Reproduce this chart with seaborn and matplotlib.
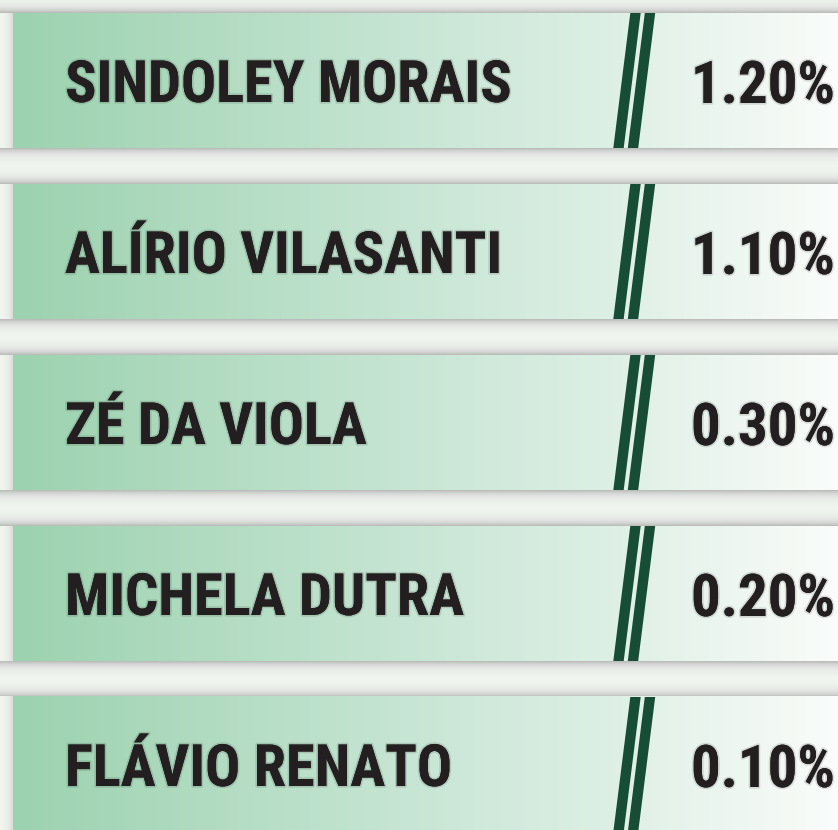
import numpy as np
import pandas as pd
import matplotlib
matplotlib.use('Agg')
import matplotlib.pyplot as plt
import matplotlib.patheffects as pe
from matplotlib import font_manager
from matplotlib.patches import Polygon
from matplotlib.colors import LinearSegmentedColormap, to_rgb
import seaborn as sns

# data
names = ['SINDOLEY MORAIS', 'ALÍRIO VILASANTI', 'ZÉ DA VIOLA', 'MICHELA DUTRA', 'FLÁVIO RENATO']
shares = [1.20, 1.10, 0.30, 0.20, 0.10]
panel = [1.0, 1.0, 1.0, 1.0, 1.0]   # every row is a full-width panel

df = pd.DataFrame({'name': names, 'share': shares, 'panel': panel})
df['label'] = df['share'].map(lambda v: f'{v:.2f}%')

sns.set_theme(style='white')
available = {f.name for f in font_manager.fontManager.ttflist}
font = next((f for f in ['Liberation Sans Narrow', 'Roboto Condensed', 'DejaVu Sans']
             if f in available), 'DejaVu Sans')
plt.rcParams['font.family'] = [font, 'DejaVu Sans']

W, H = 838, 830
bg = '#f3f7f2'
fig = plt.figure(figsize=(W / 100, H / 100), dpi=100, facecolor=bg)
ax = fig.add_axes([0, 0, 1, 1])
ax.set_facecolor(bg)

px_x = 1 / 825   # data units per pixel
px_y = 1 / 171
bar_h = 135 / 171
x_left = -13 * px_x
y_top = -80.5 / 171
y_bot = (H - 80.5) / 171

sns.barplot(data=df, x='panel', y='name', orient='h', width=bar_h,
            color='#9cd2af', saturation=1, linewidth=0, ax=ax, zorder=3)
bars = list(ax.patches)

cmap = LinearSegmentedColormap.from_list(
    'panel', [(0.0, '#9cd2af'), (0.47, '#c6e5d3'), (0.71, '#dcefe4'), (1.0, '#fbfcfb')])
grad_rgb = cmap(np.linspace(0, 1, 1024))[np.newaxis, :, :3]

light = np.array(to_rgb(bg))
shade = np.array(to_rgb('#b5b7b4'))


def shadow_profile(n, top_edge, bottom_edge, s=5.0):
    d = np.arange(n) + 0.5
    w = np.zeros(n)
    if top_edge:
        w = np.maximum(w, np.exp(-d / s))
    if bottom_edge:
        w = np.maximum(w, np.exp(-(n - d) / s))
    return light[None, :] * (1 - w[:, None]) + shade[None, :] * w[:, None]


for i, p in enumerate(bars):
    x0, y0 = p.get_x(), p.get_y()
    w, h = p.get_width(), p.get_height()
    # shaded gap above each bar
    prev_bottom = bars[i - 1].get_y() + bars[i - 1].get_height() if i else y_top
    n = max(int(round((y0 - prev_bottom) / px_y)), 2)
    ax.imshow(shadow_profile(n, i > 0, True)[:, None, :],
              extent=(x_left, 1.0, y0, prev_bottom), aspect='auto',
              zorder=1, interpolation='bilinear')
    # shadow on the left margin beside the bar
    m = 0.6 * np.exp(-(13 - np.arange(13) - 0.5) / 4.0)
    side = light[None, :] * (1 - m[:, None]) + shade[None, :] * m[:, None]
    ax.imshow(side[None, :, :], extent=(x_left, x0, y0 + h, y0), aspect='auto',
              zorder=2, interpolation='bilinear')
    # panel gradient
    ax.imshow(grad_rgb, extent=(x0, x0 + w, y0 + h, y0),
              aspect='auto', zorder=4, interpolation='nearest')
    # double slash divider
    for off in (0, 14.5):
        top_c, bot_c = (635.5 + off - 13) * px_x, (618.5 + off - 13) * px_x
        hw = 5.2 * px_x
        ax.add_patch(Polygon([(top_c - hw, y0), (top_c + hw, y0),
                              (bot_c + hw, y0 + h), (bot_c - hw, y0 + h)],
                             closed=True, facecolor='#174d35', lw=0, zorder=5))

# gap after the last bar (if any room is left)
last = bars[-1]
lb = last.get_y() + last.get_height()
if lb < y_bot:
    n = max(int(round((y_bot - lb) / px_y)), 2)
    ax.imshow(shadow_profile(n, True, False)[:, None, :],
              extent=(x_left, 1.0, y_bot, lb), aspect='auto', zorder=1)

ax.set_xlim(x_left, 1.0)
ax.set_ylim(y_bot, y_top)
ax.set_axis_off()

glow = [pe.withStroke(linewidth=2.5, foreground=(0, 0, 0, 0.12))]
fig.canvas.draw()
renderer = fig.canvas.get_renderer()


def fit(txt, max_w):
    tw = txt.get_window_extent(renderer).width
    if tw > max_w:
        txt.set_fontsize(txt.get_fontsize() * max_w / tw)


for i, row in df.iterrows():
    t = ax.text((65 - 13) * px_x, i + 21.5 * px_y, row['name'], fontsize=42,
                fontweight='bold', fontstretch='condensed', color='#231f20',
                ha='left', va='baseline', zorder=6, path_effects=glow)
    fit(t, 520)
    v = ax.text((691 - 13) * px_x, i + 22.5 * px_y, row['label'], fontsize=50,
                fontweight='bold', fontstretch='condensed', color='#231f20',
                ha='left', va='baseline', zorder=6, path_effects=glow)
    fit(v, 144)

fig.savefig('out.png', dpi=100, facecolor=fig.get_facecolor())
